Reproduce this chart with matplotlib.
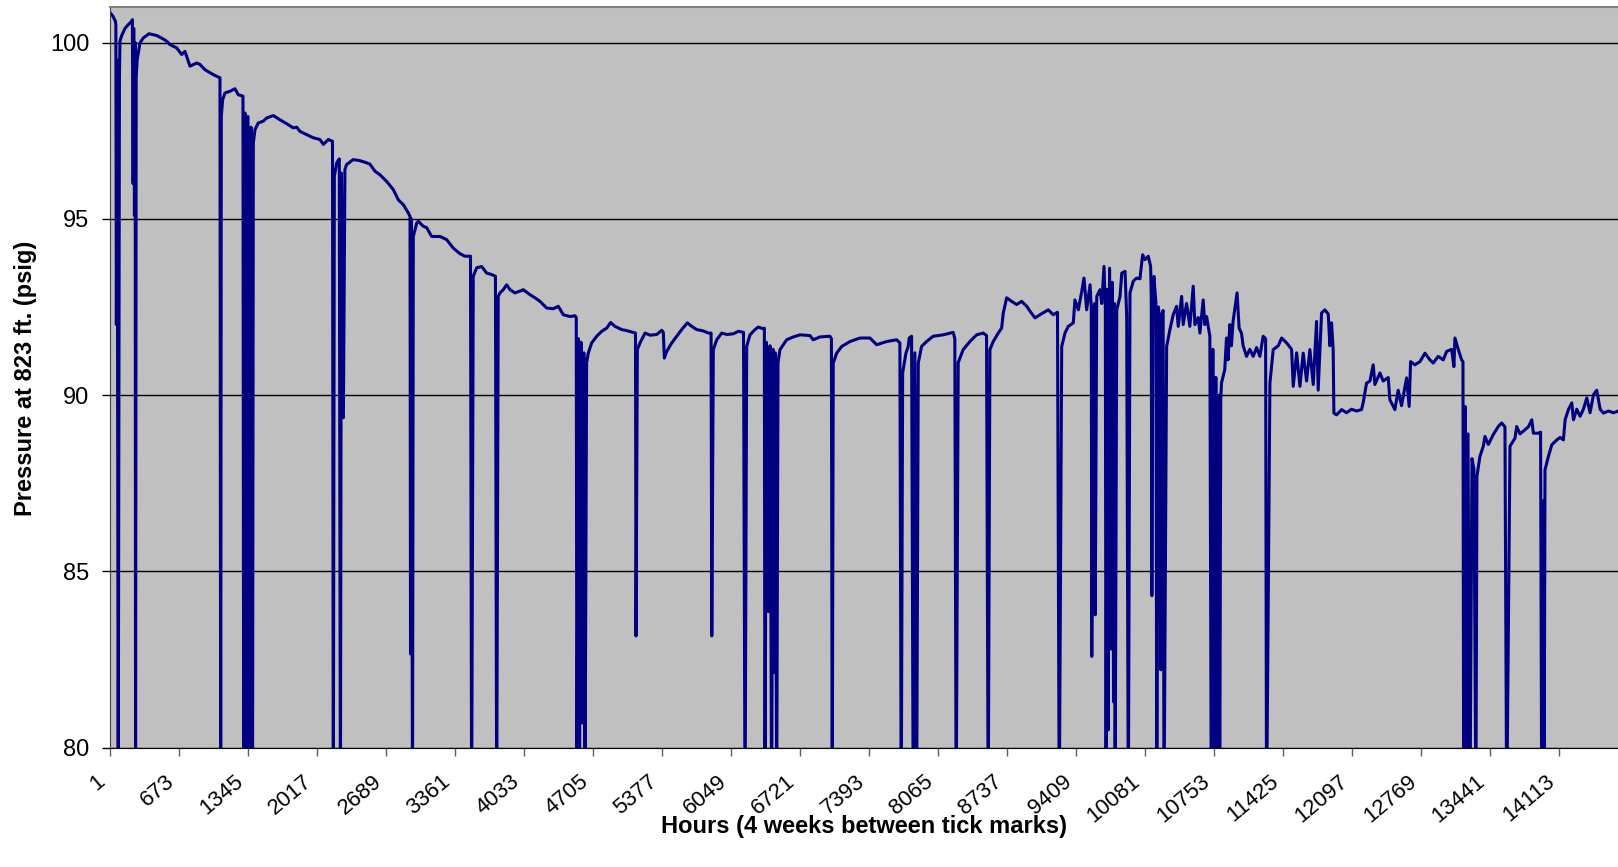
import matplotlib
matplotlib.use('Agg')
import matplotlib.pyplot as plt
import matplotlib.transforms as mtransforms

plt.rcParams['font.family'] = ['Liberation Sans', 'DejaVu Sans']

# hourly pressure trace (78 = reading below the axis floor)
hours = [
    1, 29, 54, 58, 63, 71, 81, 93, 98, 115,
    147, 176, 212, 219, 226, 232, 239, 246, 250, 256,
    266, 293, 325, 381, 456, 520, 553, 585, 650, 699,
    731, 780, 845, 877, 926, 1007, 1072, 1079, 1085, 1098,
    1121, 1170, 1218, 1250, 1296, 1303, 1316, 1330, 1345, 1360,
    1374, 1389, 1397, 1413, 1445, 1494, 1527, 1591, 1656, 1721,
    1786, 1819, 1851, 1917, 1981, 2046, 2079, 2127, 2168, 2176,
    2186, 2209, 2234, 2245, 2255, 2274, 2289, 2305, 2370, 2435,
    2500, 2533, 2582, 2630, 2696, 2760, 2809, 2858, 2906, 2923,
    2928, 2936, 2947, 2955, 2988, 3004, 3052, 3085, 3134, 3215,
    3280, 3344, 3410, 3458, 3512, 3523, 3539, 3572, 3621, 3670,
    3718, 3755, 3767, 3782, 3799, 3831, 3864, 3897, 3945, 3994,
    4026, 4091, 4140, 4189, 4254, 4318, 4367, 4416, 4481, 4530,
    4542, 4549, 4562, 4573, 4588, 4603, 4616, 4627, 4643, 4659,
    4692, 4741, 4790, 4838, 4877, 4919, 4984, 5033, 5097, 5119,
    5124, 5137, 5163, 5212, 5261, 5326, 5374, 5390, 5400, 5423,
    5472, 5520, 5569, 5624, 5667, 5715, 5780, 5829, 5855, 5862,
    5877, 5910, 5959, 6008, 6072, 6121, 6171, 6186, 6202, 6234,
    6283, 6315, 6364, 6374, 6380, 6394, 6414, 6429, 6445, 6458,
    6468, 6480, 6494, 6507, 6526, 6591, 6656, 6721, 6818, 6850,
    6915, 7013, 7027, 7035, 7045, 7078, 7127, 7208, 7305, 7402,
    7468, 7565, 7662, 7694, 7707, 7721, 7753, 7775, 7785, 7808,
    7824, 7840, 7857, 7873, 7905, 7954, 8018, 8116, 8213, 8229,
    8242, 8262, 8310, 8376, 8441, 8505, 8538, 8554, 8571, 8603,
    8652, 8685, 8701, 8734, 8782, 8831, 8880, 8929, 8961, 9010,
    9058, 9139, 9188, 9229, 9246, 9270, 9302, 9334, 9383, 9399,
    9432, 9465, 9487, 9513, 9546, 9558, 9563, 9575, 9590, 9597,
    9611, 9643, 9660, 9682, 9695, 9702, 9712, 9722, 9736, 9752,
    9762, 9775, 9783, 9790, 9806, 9838, 9855, 9887, 9903, 9919,
    9935, 9967, 10000, 10032, 10058, 10081, 10113, 10136, 10142, 10148,
    10159, 10168, 10188, 10196, 10212, 10227, 10235, 10246, 10258, 10266,
    10292, 10324, 10356, 10389, 10405, 10438, 10453, 10486, 10518, 10551,
    10567, 10600, 10616, 10648, 10664, 10681, 10713, 10727, 10742, 10756,
    10771, 10785, 10800, 10809, 10819, 10826, 10858, 10875, 10890, 10907,
    10923, 10939, 10978, 10998, 11021, 11037, 11070, 11102, 11135, 11168,
    11200, 11232, 11256, 11265, 11298, 11330, 11379, 11412, 11461, 11509,
    11525, 11558, 11590, 11622, 11655, 11687, 11720, 11752, 11768, 11801,
    11833, 11866, 11882, 11898, 11914, 11921, 11947, 11996, 12044, 12093,
    12142, 12190, 12206, 12239, 12272, 12304, 12320, 12369, 12401, 12450,
    12466, 12515, 12547, 12580, 12629, 12654, 12668, 12710, 12759, 12808,
    12856, 12889, 12937, 12986, 13019, 13068, 13090, 13100, 13132, 13165,
    13178, 13185, 13198, 13212, 13227, 13246, 13266, 13285, 13304, 13314,
    13343, 13376, 13392, 13425, 13473, 13522, 13555, 13587, 13604, 13636,
    13685, 13701, 13734, 13782, 13815, 13848, 13864, 13912, 13934, 13945,
    13958, 13968, 13977, 14010, 14043, 14092, 14124, 14156, 14173, 14205,
    14238, 14254, 14286, 14319, 14351, 14384, 14416, 14449, 14481, 14514,
    14546, 14595, 14644, 14690,
]
psig = [
    100.85, 100.75, 100.6, 100.5, 92.0, 99.5, 78, 99.0, 100.04, 100.2,
    100.4, 100.5, 100.6, 100.65, 96.0, 100.4, 95.1, 100.0, 78, 99.0,
    99.52, 99.99, 100.13, 100.25, 100.2, 100.1, 100.04, 99.94, 99.85, 99.66,
    99.75, 99.33, 99.42, 99.38, 99.23, 99.09, 99.0, 78, 97.91, 98.38,
    98.57, 98.62, 98.69, 98.52, 98.48, 78, 98.0, 78, 97.9, 78,
    97.6, 78, 97.15, 97.53, 97.72, 97.77, 97.86, 97.93, 97.81, 97.70,
    97.58, 97.6, 97.48, 97.39, 97.30, 97.25, 97.11, 97.25, 97.2, 78,
    96.21, 96.59, 96.70, 78, 96.3, 89.36, 96.40, 96.54, 96.68, 96.65,
    96.59, 96.55, 96.35, 96.25, 96.06, 95.83, 95.54, 95.40, 95.17, 95.07,
    82.66, 95.0, 78, 94.5, 94.88, 94.93, 94.79, 94.75, 94.50, 94.50,
    94.41, 94.17, 94.01, 93.94, 93.94, 78, 93.37, 93.61, 93.65, 93.46,
    93.42, 93.37, 78, 92.80, 92.9, 92.99, 93.13, 92.99, 92.90, 92.95,
    92.99, 92.85, 92.76, 92.66, 92.47, 92.45, 92.52, 92.28, 92.23, 92.25,
    92.2, 78, 91.6, 78, 91.5, 80.7, 91.2, 78, 90.92, 91.19,
    91.48, 91.67, 91.81, 91.90, 92.06, 91.95, 91.86, 91.83, 91.78, 91.76,
    83.17, 91.29, 91.48, 91.76, 91.7, 91.72, 91.84, 91.78, 91.05, 91.24,
    91.48, 91.67, 91.86, 92.05, 91.95, 91.86, 91.82, 91.76, 91.76, 83.17,
    91.29, 91.57, 91.76, 91.72, 91.74, 91.81, 91.78, 78, 91.38, 91.71,
    91.86, 91.93, 91.88, 91.9, 78, 91.5, 83.86, 91.4, 78, 91.3,
    82.13, 91.2, 78, 90.92, 91.29, 91.57, 91.65, 91.71, 91.69, 91.57,
    91.65, 91.67, 91.6, 78, 90.91, 91.19, 91.38, 91.52, 91.62, 91.62,
    91.43, 91.52, 91.57, 91.48, 78, 90.63, 91.19, 91.38, 91.62, 91.67,
    78, 91.2, 78, 90.91, 91.38, 91.52, 91.67, 91.71, 91.78, 91.6,
    78, 90.92, 91.29, 91.52, 91.71, 91.76, 91.69, 78, 91.29, 91.52,
    91.76, 91.90, 92.33, 92.76, 92.66, 92.57, 92.66, 92.52, 92.38, 92.19,
    92.28, 92.42, 92.28, 92.35, 78, 91.38, 91.76, 91.95, 92.05, 92.7,
    92.42, 92.94, 93.32, 92.42, 93.13, 92.5, 82.59, 92.2, 92.6, 83.77,
    92.80, 92.99, 92.6, 93.65, 92.5, 78, 93.0, 80.5, 93.6, 82.8,
    93.2, 81.3, 92.6, 78, 92.42, 92.8, 93.46, 93.51, 92.23, 78,
    92.90, 93.23, 93.32, 93.3, 93.98, 93.84, 93.94, 93.65, 92.8, 84.31,
    93.0, 93.37, 92.6, 78, 92.5, 92.0, 82.21, 92.3, 92.4, 78,
    91.38, 91.86, 92.28, 92.52, 91.95, 92.80, 92.0, 92.6, 91.95, 93.09,
    92.0, 92.2, 91.76, 92.7, 92.0, 92.23, 91.67, 78, 91.3, 78,
    90.5, 78, 90.0, 78, 89.87, 90.34, 90.72, 91.62, 91.0, 92.0,
    91.4, 92.09, 92.90, 91.9, 91.76, 91.4, 91.10, 91.3, 91.10, 91.35,
    91.10, 91.67, 91.6, 78, 90.34, 91.29, 91.4, 91.62, 91.48, 91.3,
    90.25, 91.2, 90.25, 91.19, 90.4, 91.29, 90.3, 92.09, 90.14, 92.33,
    92.42, 92.3, 91.4, 92.05, 91.29, 89.49, 89.44, 89.59, 89.5, 89.6,
    89.55, 89.59, 89.78, 90.34, 90.4, 90.86, 90.3, 90.63, 90.4, 90.5,
    89.87, 89.59, 90.14, 89.7, 90.49, 89.68, 90.95, 90.86, 90.95, 91.19,
    91.0, 90.91, 91.1, 91.0, 91.24, 91.3, 90.81, 91.62, 91.3, 91.0,
    90.95, 78, 89.68, 78, 88.9, 78, 88.2, 87.9, 78, 87.69,
    88.26, 88.55, 88.83, 88.6, 88.88, 89.11, 89.21, 89.1, 78, 88.55,
    88.78, 89.11, 88.9, 89.02, 89.1, 89.30, 88.92, 88.92, 88.95, 78,
    87.0, 78, 87.88, 88.26, 88.59, 88.73, 88.8, 88.73, 89.30, 89.59,
    89.78, 89.3, 89.6, 89.4, 89.6, 89.92, 89.5, 90.01, 90.14, 89.6,
    89.49, 89.55, 89.5, 89.55,
]

x_ticks = [1, 673, 1345, 2017, 2689, 3361, 4033, 4705, 5377, 6049, 6721,
           7393, 8065, 8737, 9409, 10081, 10753, 11425, 12097, 12769, 13441, 14113]
y_ticks = [80, 85, 90, 95, 100]

fig = plt.figure(figsize=(16.18, 8.67), dpi=100)
ax = fig.add_axes([110 / 1618, 119.3 / 867, 1508 / 1618, 740.4 / 867])
ax.set_facecolor('#C0C0C0')

ax.plot(hours, psig, color='#000080', lw=2.2)

ax.set_xlim(1, 14688)
ax.set_ylim(80, 101)
ax.set_xticks(x_ticks)
ax.set_xticklabels([str(t) for t in x_ticks])
ax.set_yticks(y_ticks)
ax.set_yticklabels([str(t) for t in y_ticks])

ax.grid(axis='y', color='black', lw=1)
ax.set_axisbelow(True)

ax.spines['right'].set_visible(False)
ax.spines['top'].set_color('#808080')
ax.spines['top'].set_linewidth(1.5)
ax.spines['left'].set_color('#404040')
ax.spines['bottom'].set_color('black')

ax.tick_params(axis='y', direction='out', length=6, width=1, pad=9, labelsize=17)
ax.tick_params(axis='x', direction='out', length=5.5, width=1, color='#606060',
               pad=11, labelsize=16)

shift = mtransforms.ScaledTranslation(-0.14, 0, fig.dpi_scale_trans)
for lab in ax.get_xticklabels():
    lab.set_rotation(40)
    lab.set_ha('right')
    lab.set_va('top')
    lab.set_rotation_mode('anchor')
    lab.set_transform(lab.get_transform() + shift)

fig.text(864 / 1618, 1 - 826 / 867, 'Hours (4 weeks between tick marks)',
         ha='center', va='center', fontsize=17, fontweight='bold')
fig.text(26 / 1618, 1 - 378 / 867, 'Pressure at 823 ft. (psig)',
         ha='center', va='center', rotation=90, fontsize=17, fontweight='bold')

fig.savefig('out.png', dpi=100, facecolor='white')
